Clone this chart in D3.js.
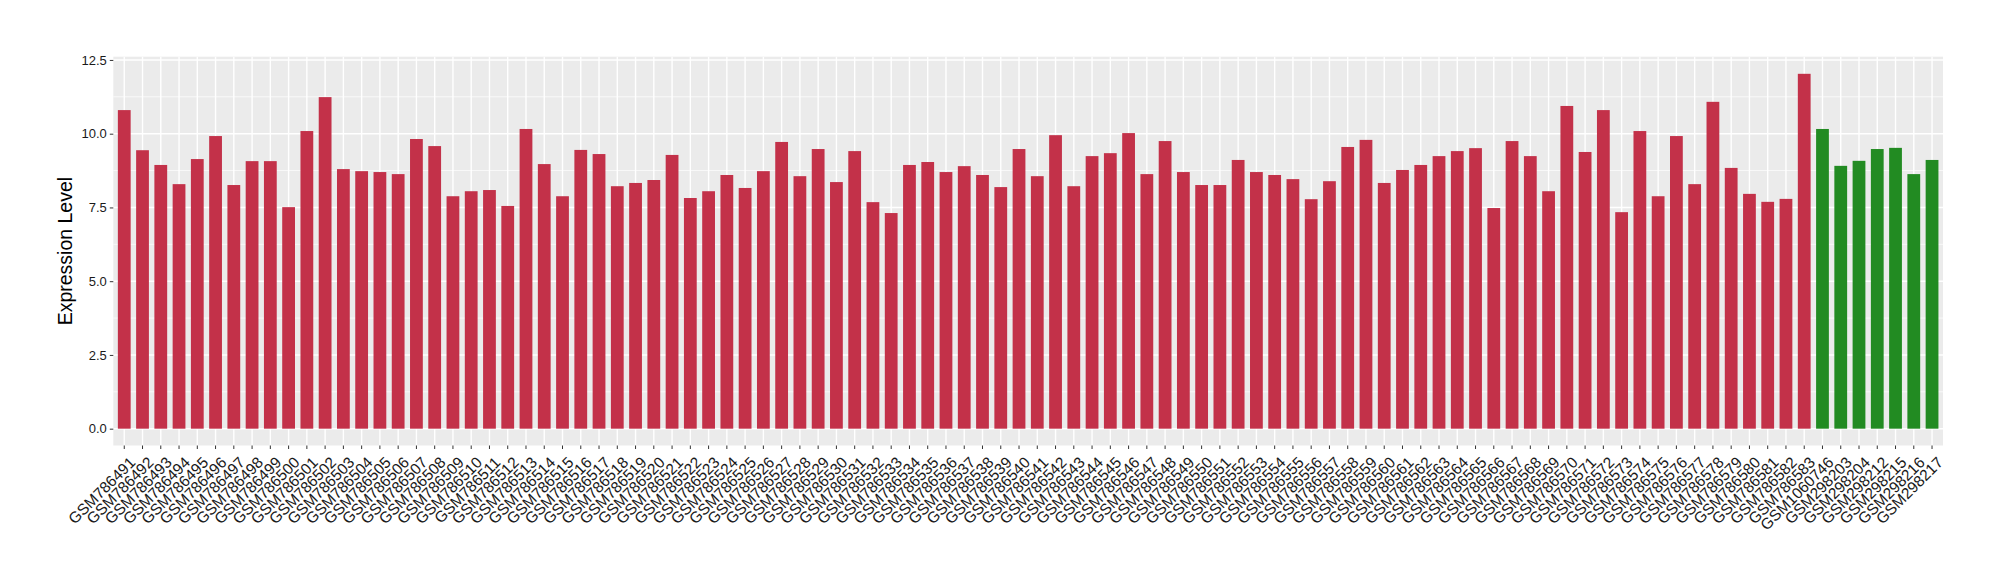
<!DOCTYPE html>
<html>
<head>
<meta charset="utf-8">
<script src="https://cdn.jsdelivr.net/npm/d3@7"></script>
<style>
	body{margin:0;background:#fff;}
	text{font-family:"Liberation Sans", Arial, Helvetica, sans-serif;}
</style>
</head>
<body>
<div id="chart"></div>
<script>

//samples (red group)
const redSamples = ["GSM786491","GSM786492","GSM786493","GSM786494","GSM786495","GSM786496","GSM786497","GSM786498","GSM786499","GSM786500",
	"GSM786501","GSM786502","GSM786503","GSM786504","GSM786505","GSM786506","GSM786507","GSM786508","GSM786509","GSM786510",
	"GSM786511","GSM786512","GSM786513","GSM786514","GSM786515","GSM786516","GSM786517","GSM786518","GSM786519","GSM786520",
	"GSM786521","GSM786522","GSM786523","GSM786524","GSM786525","GSM786526","GSM786527","GSM786528","GSM786529","GSM786530",
	"GSM786531","GSM786532","GSM786533","GSM786534","GSM786535","GSM786536","GSM786537","GSM786538","GSM786539","GSM786540",
	"GSM786541","GSM786542","GSM786543","GSM786544","GSM786545","GSM786546","GSM786547","GSM786548","GSM786549","GSM786550",
	"GSM786551","GSM786552","GSM786553","GSM786554","GSM786555","GSM786556","GSM786557","GSM786558","GSM786559","GSM786560",
	"GSM786561","GSM786562","GSM786563","GSM786564","GSM786565","GSM786566","GSM786567","GSM786568","GSM786569","GSM786570",
	"GSM786571","GSM786572","GSM786573","GSM786574","GSM786575","GSM786576","GSM786577","GSM786578","GSM786579","GSM786580",
	"GSM786581","GSM786582","GSM786583"];

const redValues = [10.80, 9.44, 8.94, 8.29, 9.14, 9.92, 8.26, 9.07, 9.07, 7.51,
	10.09, 11.24, 8.80, 8.73, 8.70, 8.63, 9.82, 9.58, 7.88, 8.05,
	8.09, 7.55, 10.16, 8.97, 7.88, 9.45, 9.31, 8.22, 8.33, 8.43,
	9.28, 7.82, 8.05, 8.60, 8.16, 8.73, 9.72, 8.56, 9.48, 8.36,
	9.41, 7.68, 7.31, 8.94, 9.04, 8.70, 8.90, 8.60, 8.19, 9.48,
	8.56, 9.95, 8.22, 9.24, 9.34, 10.02, 8.63, 9.75, 8.70, 8.26,
	8.26, 9.11, 8.70, 8.60, 8.46, 7.78, 8.39, 9.55, 9.79, 8.33,
	8.77, 8.94, 9.24, 9.41, 9.51, 7.48, 9.75, 9.24, 8.05, 10.94,
	9.38, 10.80, 7.34, 10.09, 7.88, 9.92, 8.29, 11.08, 8.84, 7.96,
	7.69, 7.79, 12.03];

//samples (green group)
const greenSamples = ["GSM1060746","GSM298203","GSM298204","GSM298212","GSM298215","GSM298216","GSM298217"];
const greenValues = [10.16, 8.91, 9.08, 9.48, 9.52, 8.63, 9.11];

//y ticks
const yTicks = [0, 2.5, 5, 7.5, 10, 12.5];
const yMinor = [1.25, 3.75, 6.25, 8.75, 11.25];

const red = "#C33149";
const green = "#228B22";


function drawChart(){

	//sizing
	let width = 2000;
	let height = 580;
	let panel = {left:113.3, right:1943, top:56.7, bottom:445.5};

	let svg = d3.select("#chart")
		.append("svg")
		.attr("width", width)
		.attr("height", height);

	//build data
	let data = [];
	redSamples.forEach((s,i)=>{ data.push({name:s, value:redValues[i], color:red}); });
	greenSamples.forEach((s,i)=>{ data.push({name:s, value:greenValues[i], color:green}); });

	//scales
	const xScale = d3.scaleBand()
		.domain(data.map((d)=>{return d.name;}))
		.range([panel.left, panel.right])
		.paddingInner(0.3)
		.paddingOuter(0.25);

	const yScale = d3.scaleLinear()
		.domain([-0.57, 12.61])
		.range([panel.bottom, panel.top]);

	//panel background
	svg.append("rect")
		.attr("x", panel.left)
		.attr("y", panel.top)
		.attr("width", panel.right-panel.left)
		.attr("height", panel.bottom-panel.top)
		.attr("fill", "#EBEBEB");

	//minor grid
	svg.selectAll(".minor")
		.data(yMinor)
		.enter()
		.append("line")
		.attr("class", "minor")
		.attr("x1", panel.left)
		.attr("x2", panel.right)
		.attr("y1", (d)=>{return yScale(d);})
		.attr("y2", (d)=>{return yScale(d);})
		.attr("stroke", "#fff")
		.attr("stroke-width", 0.7);

	//major grid
	svg.selectAll(".major")
		.data(yTicks)
		.enter()
		.append("line")
		.attr("class", "major")
		.attr("x1", panel.left)
		.attr("x2", panel.right)
		.attr("y1", (d)=>{return yScale(d);})
		.attr("y2", (d)=>{return yScale(d);})
		.attr("stroke", "#fff")
		.attr("stroke-width", 1.4);

	svg.selectAll(".vgrid")
		.data(data)
		.enter()
		.append("line")
		.attr("class", "vgrid")
		.attr("x1", (d)=>{return xScale(d.name)+xScale.bandwidth()/2;})
		.attr("x2", (d)=>{return xScale(d.name)+xScale.bandwidth()/2;})
		.attr("y1", panel.top)
		.attr("y2", panel.bottom)
		.attr("stroke", "#fff")
		.attr("stroke-width", 1.4);

	//bars
	svg.selectAll(".bar")
		.data(data)
		.enter()
		.append("rect")
		.attr("class", "bar")
		.attr("x", (d)=>{return xScale(d.name);})
		.attr("width", xScale.bandwidth())
		.attr("y", (d)=>{return yScale(d.value);})
		.attr("height", (d)=>{return yScale(0)-yScale(d.value);})
		.attr("fill", (d)=>{return d.color;});

	//y axis
	const yAxis = d3.axisLeft(yScale)
		.tickValues(yTicks)
		.tickSize(3.5)
		.tickPadding(3)
		.tickFormat(d3.format(".1f"));

	let gy = svg.append("g")
		.attr("class", "axis y_axis")
		.attr("transform", `translate(${panel.left},0)`)
		.call(yAxis);
	gy.select(".domain").remove();
	gy.selectAll("line").attr("stroke", "#333");
	gy.selectAll("text")
		.attr("fill", "#1a1a1a")
		.style("font-size", "13px")
		.style("font-family", "'Liberation Sans', Arial, sans-serif");

	//x axis
	const xAxis = d3.axisBottom(xScale)
		.tickSize(3.5)
		.tickSizeOuter(0);

	let gx = svg.append("g")
		.attr("class", "axis x_axis")
		.attr("transform", `translate(0,${panel.bottom})`)
		.call(xAxis);
	gx.select(".domain").remove();
	gx.selectAll("line").attr("stroke", "#333");
	gx.selectAll("text")
		.attr("fill", "#1a1a1a")
		.attr("y", 0)
		.attr("dy", 0)
		.attr("transform", "translate(12,18) rotate(-45)")
		.style("text-anchor", "end")
		.style("font-size", "15.5px")
		.style("font-family", "'Liberation Sans', Arial, sans-serif");

	//y label
	svg.append("text")
		.attr("transform", `translate(72,${(panel.top+panel.bottom)/2}) rotate(-90)`)
		.style("text-anchor", "middle")
		.style("font-size", "19.5px")
		.attr("fill", "#000")
		.text("Expression Level");
}

drawChart();
</script>
</body>
</html>
